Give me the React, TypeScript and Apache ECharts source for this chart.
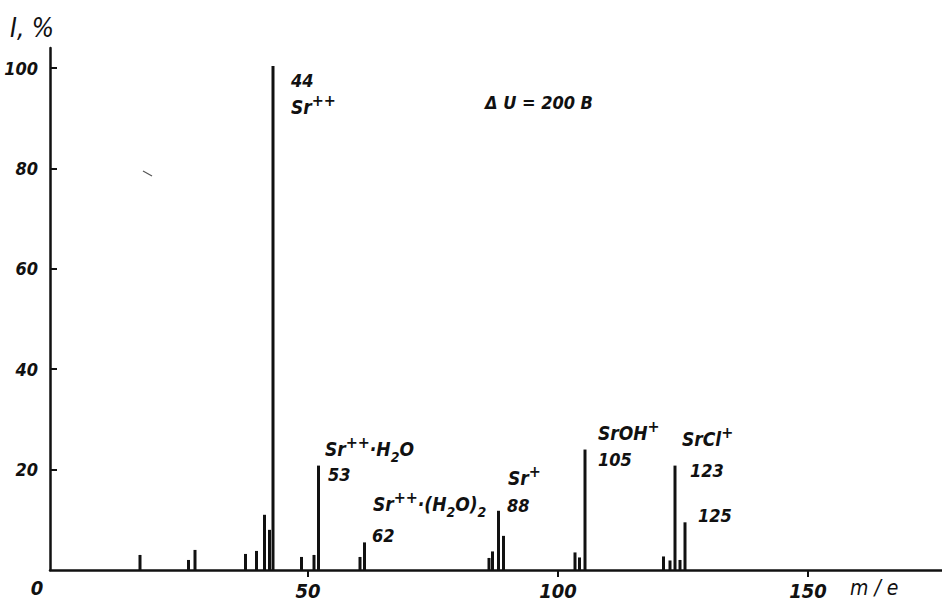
import React, { useEffect, useRef } from "react";
import * as echarts from "echarts";

// m/e positions of the spectral lines
const peakMass = [16.4, 26.1, 27.4, 37.5, 39.7, 41.3, 42.3, 43.0, 48.7, 51.2, 52.1, 60.4, 61.3, 86.2, 86.9, 88.1, 89.1, 103.4, 104.3, 105.4, 121.1, 122.4, 123.4, 124.4, 125.4];
// relative intensities, %
const peakIntensity = [3.0, 2.0, 4.0, 3.2, 3.8, 11.0, 8.0, 100.4, 2.6, 3.0, 20.8, 2.6, 5.5, 2.4, 3.7, 11.8, 6.8, 3.5, 2.5, 24.0, 2.7, 1.9, 20.8, 2.0, 9.5];

const xTicks = [50, 100, 150];
const yTicks = [20, 40, 60, 80, 100];

const FONT = '"DejaVu Sans Condensed", "DejaVu Sans", sans-serif';
const INK = "#111";

export default function App() {
  const ref = useRef<HTMLDivElement>(null);
  useEffect(() => {
    if (!ref.current) return;
    const chart = echarts.init(ref.current, null, { renderer: "svg" });

    const rich = {
      m: { fontFamily: FONT, fontStyle: "italic", fontWeight: "bold", fontSize: 19, lineHeight: 30, color: INK },
      sup: { fontFamily: FONT, fontStyle: "italic", fontSize: 16, lineHeight: 10, verticalAlign: "top", color: INK, fontWeight: "bold" },
      sub: { fontFamily: FONT, fontStyle: "italic", fontWeight: "bold", fontSize: 14, lineHeight: 14, verticalAlign: "bottom", color: INK },
    };
    const richText = (x: number, y: number, text: string) => ({
      type: "text",
      x,
      y,
      style: { text, rich, textVerticalAlign: "middle", textAlign: "left", fill: INK },
    });
    const plain = (x: number, y: number, text: string, size = 18, weight: any = "bold", align = "left") => ({
      type: "text",
      x,
      y,
      style: {
        text,
        fontFamily: FONT,
        fontStyle: "italic",
        fontWeight: weight,
        fontSize: size,
        fill: INK,
        textVerticalAlign: "middle",
        textAlign: align,
      },
    });

    chart.setOption({
      animation: false,
      backgroundColor: "#ffffff",
      grid: { left: 50, right: 0, top: 48, bottom: 32, outerBoundsMode: "none", containLabel: false },
      xAxis: {
        type: "value",
        min: -1.6,
        max: 176.8,
        axisLine: { show: true, onZero: false, lineStyle: { color: INK, width: 2.5 } },
        axisTick: { show: true, customValues: xTicks, inside: false, length: 7, lineStyle: { color: INK, width: 2 } },
        axisLabel: {
          customValues: xTicks,
          margin: 11,
          fontFamily: FONT,
          fontStyle: "italic",
          fontWeight: "bold",
          fontSize: 20,
          color: INK,
        },
        splitLine: { show: false },
      },
      yAxis: {
        type: "value",
        min: 0,
        max: 104,
        axisLine: { show: true, onZero: false, lineStyle: { color: INK, width: 2.5 } },
        axisTick: { show: true, customValues: yTicks, inside: true, length: 7, lineStyle: { color: INK, width: 2 } },
        axisLabel: {
          customValues: yTicks,
          margin: 12,
          fontFamily: FONT,
          fontStyle: "italic",
          fontWeight: "bold",
          fontSize: 18,
          color: INK,
        },
        splitLine: { show: false },
      },
      series: [
        {
          type: "bar",
          barWidth: 3,
          itemStyle: { color: INK },
          data: peakMass.map((m, i) => [m, peakIntensity[i]]),
        },
      ],
      graphic: [
        plain(10, 28, "I, %", 26, "normal"),
        plain(37, 588, "0", 20, "bold", "center"),
        plain(850, 588, "m / e", 21, "normal"),
        plain(485, 102, "\u0394 U = 200 В", 18, "bold"),
        plain(291, 80, "44"),
        richText(291, 107, "{m|Sr}{sup|++}"),
        richText(325, 449, "{m|Sr}{sup|++}{m|·H}{sub|2}{m|O}"),
        plain(328, 474, "53"),
        richText(373, 504, "{m|Sr}{sup|++}{m|·(H}{sub|2}{m|O)}{sub|2}"),
        plain(372, 535, "62"),
        richText(508, 478, "{m|Sr}{sup|+}"),
        plain(507, 505, "88"),
        richText(598, 433, "{m|SrOH}{sup|+}"),
        plain(598, 459, "105"),
        richText(682, 439, "{m|SrCl}{sup|+}"),
        plain(690, 470, "123"),
        plain(698, 515, "125"),
        {
          type: "line",
          shape: { x1: 143, y1: 171, x2: 152, y2: 176 },
          style: { stroke: "#555", lineWidth: 1.2 },
        },
      ],
    });
    return () => chart.dispose();
  }, []);

  return <div ref={ref} style={{ position: "fixed", left: 0, top: 0, width: 942, height: 602 }} />;
}
